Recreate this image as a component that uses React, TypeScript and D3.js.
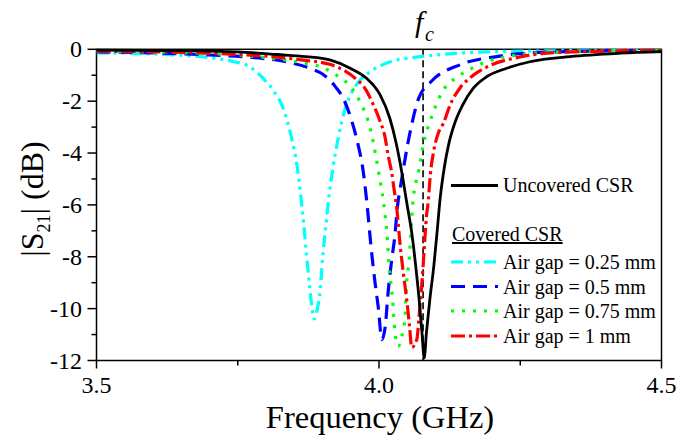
import React from "react";
import * as d3 from "d3";

// ---- data ----
const freqUncovered = [3.5, 3.65, 3.75, 3.82, 3.87, 3.913, 3.949, 3.978, 4.002, 4.019, 4.031, 4.04, 4.049, 4.058, 4.065, 4.071, 4.076, 4.08, 4.084, 4.09, 4.097, 4.103, 4.108, 4.116, 4.124, 4.134, 4.148, 4.167, 4.191, 4.226, 4.267, 4.338, 4.427, 4.5];
const s21Uncovered = [-0.03, -0.05, -0.1, -0.2, -0.28, -0.41, -0.73, -1.12, -1.76, -2.65, -3.68, -4.7, -5.9, -7.08, -8.36, -9.64, -10.92, -11.9, -10.92, -9.64, -8.36, -7.0, -5.8, -4.5, -3.6, -2.85, -2.15, -1.5, -1.05, -0.73, -0.48, -0.28, -0.15, -0.09];

const freqGap025 = [3.5, 3.6, 3.65, 3.7, 3.74, 3.77, 3.795, 3.815, 3.83, 3.845, 3.855, 3.862, 3.867, 3.872, 3.877, 3.881, 3.885, 3.891, 3.896, 3.9, 3.905, 3.911, 3.919, 3.928, 3.94, 3.96, 3.985, 4.02, 4.06, 4.1, 4.19, 4.3, 4.5];
const s21Gap025 = [-0.14, -0.18, -0.23, -0.32, -0.46, -0.66, -1.12, -1.65, -2.25, -3.4, -4.5, -5.75, -6.8, -8.0, -9.1, -9.9, -10.4, -10.0, -9.25, -8.1, -7.0, -5.75, -4.5, -3.4, -2.3, -1.37, -0.86, -0.48, -0.32, -0.22, -0.1, -0.06, -0.03];

const freqGap05 = [3.5, 3.6, 3.7, 3.78, 3.84, 3.88, 3.9, 3.922, 3.937, 3.952, 3.963, 3.972, 3.978, 3.987, 3.993, 3.999, 4.005, 4.011, 4.016, 4.022, 4.028, 4.033, 4.038, 4.055, 4.07, 4.092, 4.143, 4.208, 4.26, 4.35, 4.5];
const s21Gap05 = [-0.1, -0.14, -0.22, -0.32, -0.5, -0.75, -0.95, -1.42, -1.9, -2.78, -3.68, -4.7, -5.8, -7.85, -9.0, -10.0, -11.2, -10.7, -9.4, -8.2, -7.2, -6.0, -5.3, -3.2, -1.9, -1.25, -0.6, -0.28, -0.15, -0.08, -0.04];

const freqGap075 = [3.5, 3.65, 3.75, 3.81, 3.86, 3.9, 3.925, 3.952, 3.969, 3.981, 3.99, 3.999, 4.008, 4.014, 4.018, 4.024, 4.028, 4.034, 4.042, 4.046, 4.049, 4.053, 4.06, 4.07, 4.081, 4.09, 4.1, 4.114, 4.14, 4.17, 4.2, 4.245, 4.33, 4.5];
const s21Gap075 = [-0.08, -0.13, -0.22, -0.35, -0.5, -0.7, -1.0, -1.5, -2.14, -2.78, -3.6, -4.7, -5.9, -7.1, -8.36, -9.64, -10.86, -11.45, -10.9, -10.3, -9.0, -8.2, -5.9, -4.7, -3.42, -2.8, -2.2, -1.57, -1.05, -0.67, -0.41, -0.22, -0.1, -0.04];

const freqGap1 = [3.5, 3.65, 3.75, 3.82, 3.866, 3.913, 3.937, 3.958, 3.975, 3.99, 4.002, 4.011, 4.016, 4.022, 4.028, 4.031, 4.037, 4.043, 4.049, 4.054, 4.058, 4.067, 4.071, 4.076, 4.08, 4.084, 4.087, 4.091, 4.097, 4.105, 4.114, 4.126, 4.143, 4.164, 4.199, 4.238, 4.297, 4.4, 4.5];
const s21Gap1 = [-0.07, -0.12, -0.2, -0.3, -0.42, -0.58, -0.8, -1.12, -1.5, -2.14, -2.78, -3.42, -4.07, -4.7, -5.6, -6.05, -7.46, -8.62, -9.64, -10.67, -11.5, -11.18, -10.28, -9.0, -7.72, -6.44, -5.9, -4.8, -3.9, -3.23, -2.85, -2.14, -1.5, -1.05, -0.6, -0.35, -0.15, -0.07, -0.04];

const xTicks = [3.5, 4.0, 4.5];
const xTickLabels = ["3.5", "4.0", "4.5"];
const xMinorTicks = [3.75, 4.25];
const yTicks = [0, -2, -4, -6, -8, -10, -12];
const yMinorTicks = [-1, -3, -5, -7, -9, -11];
const fcFreq = 4.078;

const coveredLabels = ["Air gap = 0.25 mm", "Air gap = 0.5 mm", "Air gap = 0.75 mm", "Air gap = 1 mm"];

const FONT = "Liberation Serif, Times New Roman, DejaVu Serif, serif";

export default function App() {
  const left = 96.5, right = 661.5, top = 49.3, bottom = 360.5;
  const x = d3.scaleLinear().domain([3.5, 4.5]).range([left, right]);
  const y = d3.scaleLinear().domain([0, -12]).range([top, bottom]);

  const line = d3
    .line<[number, number]>()
    .x((d) => x(d[0]))
    .y((d) => y(d[1]))
    .curve(d3.curveMonotoneX);

  const zip = (a: number[], b: number[]) => a.map((v, i) => [v, b[i]] as [number, number]);

  const series = [
    { f: freqGap025, s: s21Gap025, color: "#00FFFF", dash: "12 5 3 5 3 5", label: coveredLabels[0] },
    { f: freqGap05, s: s21Gap05, color: "#0000FF", dash: "14 8", label: coveredLabels[1] },
    { f: freqGap075, s: s21Gap075, color: "#00FF00", dash: "3 8", label: coveredLabels[2] },
    { f: freqGap1, s: s21Gap1, color: "#FF0000", dash: "14 4 3 4", label: coveredLabels[3] },
  ];

  const legX0 = 451, legX1 = 498, legTX = 503;
  const legRowY = [262, 286.5, 311, 336];
  const ts = { fontFamily: FONT };

  return (
    <svg
      width={678}
      height={437}
      style={{ position: "absolute", left: 0, top: 0, background: "#fff", fontFamily: FONT }}
    >
      <defs>
        <clipPath id="plotclip">
          <rect x={left} y={top - 2} width={right - left} height={bottom - top + 2} />
        </clipPath>
      </defs>

      {/* frame */}
      <rect x={left} y={top} width={right - left} height={bottom - top} fill="none" stroke="#000" strokeWidth={1.5} />

      {/* fc marker */}
      <line x1={x(fcFreq)} x2={x(fcFreq)} y1={top} y2={bottom} stroke="#000" strokeWidth={1.6} strokeDasharray="7 4" />
      <text x={x(fcFreq) - 8} y={32} fontSize={30} fontStyle="italic" style={ts}>
        f
      </text>
      <text x={x(fcFreq) + 2} y={41} fontSize={20} fontStyle="italic" style={ts}>
        c
      </text>

      {/* curves */}
      <g clipPath="url(#plotclip)" fill="none">
        {series.map((s, i) => (
          <path key={i} d={line(zip(s.f, s.s)) || ""} stroke={s.color} strokeWidth={3.2} strokeDasharray={s.dash} />
        ))}
        <path d={line(zip(freqUncovered, s21Uncovered)) || ""} stroke="#000" strokeWidth={2.8} />
      </g>

      {/* x axis ticks */}
      {xTicks.map((t, i) => (
        <g key={"xt" + i}>
          <line x1={x(t)} x2={x(t)} y1={bottom} y2={bottom + 8} stroke="#000" strokeWidth={1.5} />
          <text x={x(t)} y={393} fontSize={24} textAnchor="middle" style={ts}>
            {xTickLabels[i]}
          </text>
        </g>
      ))}
      {xMinorTicks.map((t, i) => (
        <line key={"xm" + i} x1={x(t)} x2={x(t)} y1={bottom} y2={bottom + 5} stroke="#000" strokeWidth={1.5} />
      ))}

      {/* y axis ticks */}
      {yTicks.map((t, i) => (
        <g key={"yt" + i}>
          <line x1={left - 9} x2={left} y1={y(t)} y2={y(t)} stroke="#000" strokeWidth={1.5} />
          <text x={82} y={y(t) + 8} fontSize={24} textAnchor="end" style={ts}>
            {String(t)}
          </text>
        </g>
      ))}
      {yMinorTicks.map((t, i) => (
        <line key={"ym" + i} x1={left - 5} x2={left} y1={y(t)} y2={y(t)} stroke="#000" strokeWidth={1.5} />
      ))}

      {/* axis titles */}
      <text x={380} y={428} fontSize={32.5} textAnchor="middle" style={ts}>
        Frequency (GHz)
      </text>
      <text transform={`translate(43, 199) rotate(-90)`} fontSize={32} textAnchor="middle" style={ts}>
        |S<tspan fontSize={18} dy={7}>21</tspan>
        <tspan dy={-7}>| (dB)</tspan>
      </text>

      {/* legend */}
      <line x1={legX0} x2={legX1} y1={185.5} y2={185.5} stroke="#000" strokeWidth={2.8} />
      <text x={legTX} y={192} fontSize={20} style={ts}>
        Uncovered CSR
      </text>
      <text x={452} y={241} fontSize={20} textDecoration="underline" style={ts}>
        Covered CSR
      </text>
      {series.map((s, i) => (
        <g key={"lg" + i}>
          <line x1={legX0} x2={legX1} y1={legRowY[i]} y2={legRowY[i]} stroke={s.color} strokeWidth={3.2} strokeDasharray={s.dash} />
          <text x={legTX} y={legRowY[i] + 7} fontSize={20} style={ts}>
            {s.label}
          </text>
        </g>
      ))}
    </svg>
  );
}
